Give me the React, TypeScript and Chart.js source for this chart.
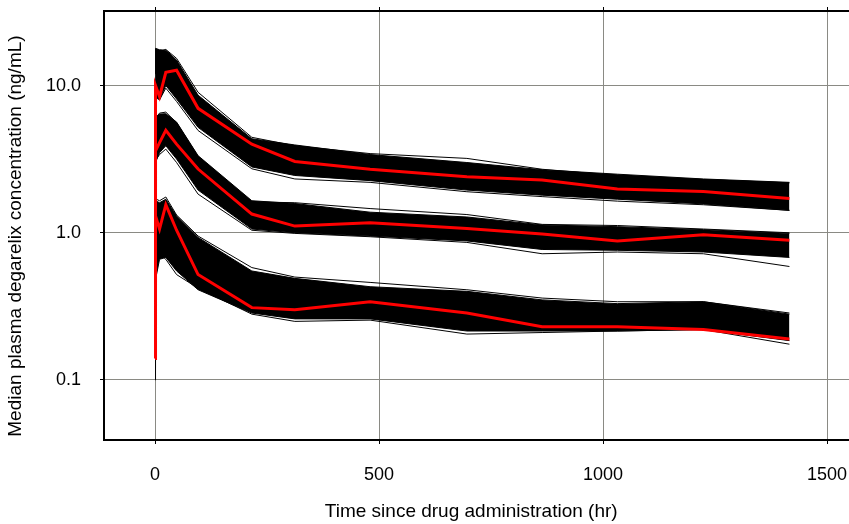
import React, { useEffect, useRef } from "react";
import { Chart, registerables } from "chart.js";

Chart.register(...registerables);

// Sampling times (hr)
const times = [0.1, 1, 10, 24, 48, 96, 216, 312, 480, 696, 864, 1032, 1224, 1416];

// Median (red) profiles for the three dose groups
const medianHigh = [1.2, 10.0, 8.4, 12.3, 12.7, 7.0, 4.0, 3.05, 2.7, 2.4, 2.28, 1.98, 1.91, 1.71];
const medianMid = [0.45, 3.6, 4.1, 4.96, 4.0, 2.71, 1.34, 1.11, 1.17, 1.07, 0.98, 0.88, 0.97, 0.89];
const medianLow = [0.14, 1.3, 1.06, 1.55, 1.04, 0.52, 0.31, 0.3, 0.34, 0.285, 0.23, 0.23, 0.22, 0.19];

// Simulated-median envelopes (black band) for each group
const highUpper = [14, 17.9, 17.5, 17.4, 14.9, 8.6, 4.35, 3.95, 3.4, 3.0, 2.68, 2.5, 2.32, 2.2];
const highLower = [1.2, 8.3, 8.0, 10.0, 8.1, 5.2, 2.8, 2.45, 2.26, 1.95, 1.8, 1.69, 1.57, 1.42];
const midUpper = [1.0, 6.1, 6.4, 6.44, 5.65, 3.34, 1.65, 1.58, 1.38, 1.28, 1.13, 1.1, 1.05, 0.99];
const midLower = [0.3, 3.0, 3.5, 3.9, 3.17, 1.95, 1.06, 1.0, 0.95, 0.88, 0.77, 0.76, 0.74, 0.68];
const lowUpper = [0.5, 1.65, 1.6, 1.69, 1.3, 0.93, 0.55, 0.49, 0.43, 0.4, 0.35, 0.33, 0.34, 0.28];
const lowLower = [0.1, 0.48, 0.66, 0.68, 0.55, 0.41, 0.285, 0.26, 0.26, 0.215, 0.215, 0.215, 0.22, 0.185];

// Individual simulated traces visible at the band edges
const highTraceA = [12, 17.5, 17.0, 17.6, 15.3, 9.0, 4.45, 3.9, 3.45, 3.2, 2.7, 2.45, 2.3, 2.18];
const highTraceB = [1.4, 8.6, 8.0, 9.6, 7.8, 4.95, 2.72, 2.32, 2.2, 1.9, 1.76, 1.64, 1.55, 1.42];
const midTraceA = [0.9, 6.0, 6.5, 6.6, 5.6, 3.3, 1.62, 1.6, 1.46, 1.33, 1.14, 1.12, 1.06, 1.0];
const midTraceB = [0.35, 3.1, 3.4, 3.7, 3.0, 1.83, 1.04, 0.99, 0.94, 0.86, 0.72, 0.74, 0.72, 0.59];
const lowTraceA = [0.6, 1.7, 1.65, 1.75, 1.32, 0.95, 0.58, 0.5, 0.46, 0.41, 0.36, 0.34, 0.34, 0.285];
const lowTraceB = [0.12, 0.5, 0.72, 0.66, 0.52, 0.42, 0.28, 0.25, 0.255, 0.205, 0.21, 0.215, 0.22, 0.175];

// Axes
const xTicks = [0, 500, 1000, 1500];
const yTicks = [0.1, 1, 10];
const yTickLabels = ["0.1", "1.0", "10.0"];
const xTitle = "Time since drug administration (hr)";
const yTitle = "Median plasma degarelix concentration (ng/mL)";

const FONT = "'Liberation Sans', Arial, Helvetica, sans-serif";

const pts = (ys: number[]) => times.map((t, i) => ({ x: t, y: ys[i] }));

export default function App() {
  const ref = useRef<HTMLCanvasElement | null>(null);

  useEffect(() => {
    if (!ref.current) return;

    const red = (ys: number[]) => ({
      data: pts(ys),
      borderColor: "#ff0000",
      borderWidth: 3,
      pointRadius: 0,
      fill: false,
      order: 0,
      tension: 0,
    });
    const band = (ys: number[], fill: any) => ({
      data: pts(ys),
      borderColor: "#000",
      backgroundColor: "#000",
      borderWidth: 1,
      pointRadius: 0,
      fill,
      order: 1,
      tension: 0,
    });

    const frame = {
      id: "frame",
      afterDatasetsDraw(chart: any) {
        const { ctx, chartArea } = chart;
        const xs = chart.scales.x;
        ctx.save();
        ctx.strokeStyle = "#000";
        ctx.lineWidth = 2;
        ctx.beginPath();
        ctx.moveTo(chartArea.left - 1, chartArea.top);
        ctx.lineTo(chartArea.right, chartArea.top);
        ctx.stroke();
        ctx.lineWidth = 1;
        xTicks.forEach((v) => {
          const px = Math.round(xs.getPixelForValue(v)) + 0.5;
          ctx.beginPath();
          ctx.moveTo(px, chartArea.top - 4);
          ctx.lineTo(px, chartArea.top);
          ctx.stroke();
        });
        ctx.restore();
      },
    };

    const chart = new Chart(ref.current, {
      type: "line",
      data: {
        datasets: [
          red(medianHigh),
          red(medianMid),
          red(medianLow),
          band(highUpper, "+1"),
          band(highLower, false),
          band(midUpper, "+1"),
          band(midLower, false),
          band(lowUpper, "+1"),
          band(lowLower, false),
          band(highTraceA, false),
          band(highTraceB, false),
          band(midTraceA, false),
          band(midTraceB, false),
          band(lowTraceA, false),
          band(lowTraceB, false),
        ] as any,
      },
      options: {
        animation: false,
        responsive: false,
        devicePixelRatio: 1,
        layout: { padding: { left: 0, top: 11, right: 0, bottom: 0 } },
        plugins: { legend: { display: false }, tooltip: { enabled: false } },
        scales: {
          x: {
            type: "linear",
            min: -114,
            max: 1549,
            afterFit: (s: any) => {
              s.height = 84;
              s.paddingLeft = 0;
              s.paddingRight = 0;
            },
            afterBuildTicks: (s: any) => {
              s.ticks = xTicks.map((v) => ({ value: v }));
            },
            grid: {
              color: "#8a8a84",
              lineWidth: 1,
              tickColor: "#000",
              tickLength: 4,
              drawTicks: true,
            },
            border: { display: true, color: "#000", width: 2 },
            ticks: {
              color: "#000",
              padding: 20,
              maxRotation: 0,
              font: { family: FONT, size: 18 },
              callback: (v: any) => String(v),
            },
            title: {
              display: true,
              text: xTitle + "  ",
              color: "#000",
              font: { family: FONT, size: 19 },
              padding: { top: 0, bottom: 1 },
            },
          },
          y: {
            type: "logarithmic",
            min: 0.0391,
            max: 32.1,
            afterFit: (s: any) => {
              s.width = 104;
              s.paddingTop = 0;
              s.paddingBottom = 0;
            },
            afterBuildTicks: (s: any) => {
              s.ticks = yTicks.map((v) => ({ value: v }));
            },
            grid: {
              color: "#8a8a84",
              lineWidth: 1,
              tickColor: "#000",
              tickLength: 4,
              drawTicks: true,
            },
            border: { display: true, color: "#000", width: 2 },
            ticks: {
              color: "#000",
              padding: 19,
              font: { family: FONT, size: 18 },
              callback: (v: any) => {
                const i = yTicks.indexOf(Number(v));
                return i >= 0 ? yTickLabels[i] : "";
              },
            },
            title: {
              display: true,
              text: yTitle + "    ",
              color: "#000",
              font: { family: FONT, size: 19 },
              padding: { top: 4, bottom: 0 },
            },
          },
        },
      },
      plugins: [frame],
    });

    return () => chart.destroy();
  }, []);

  return (
    <canvas
      ref={ref}
      width={849}
      height={524}
      style={{ position: "fixed", left: 0, top: 0, display: "block", background: "#fff" }}
    />
  );
}
